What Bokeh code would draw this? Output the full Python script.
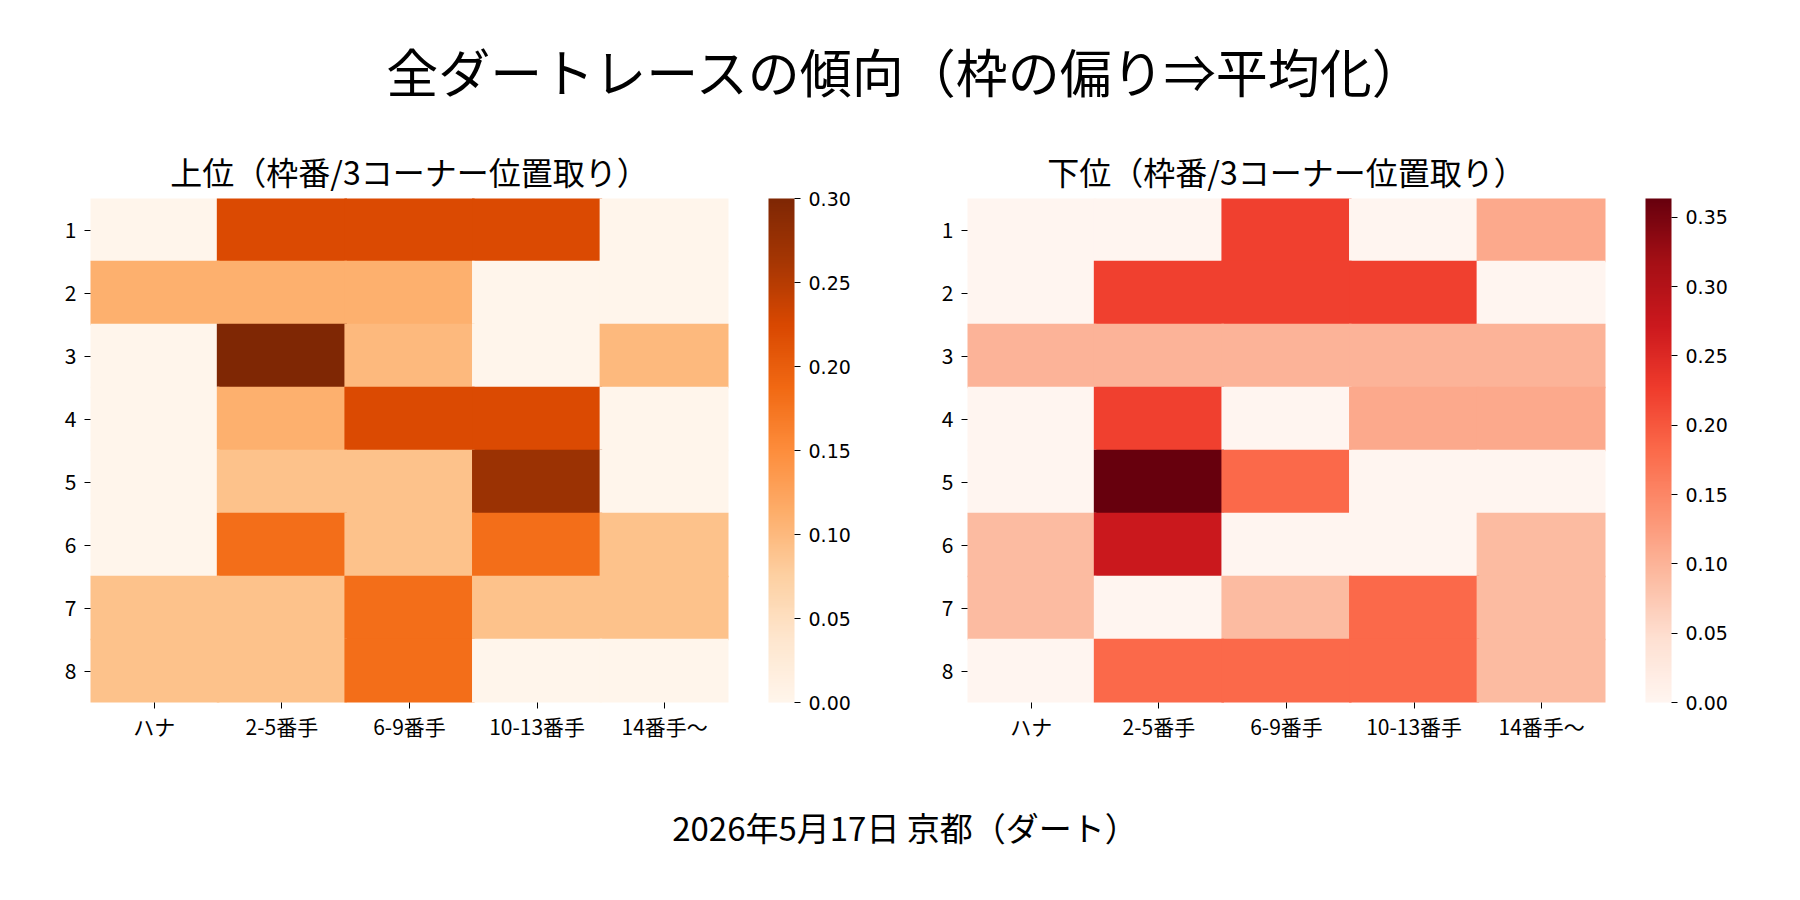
from bokeh.plotting import figure
from bokeh.models import (LinearColorMapper, ColorBar, FixedTicker, PrintfTickFormatter,
                          Div, ColumnDataSource, FactorRange)
from bokeh.layouts import column, row
from bokeh.palettes import Oranges256, Reds256
from bokeh.embed import file_html
from bokeh.resources import INLINE

# ---------------- data ----------------
gates = ["1", "2", "3", "4", "5", "6", "7", "8"]
positions = ["ハナ", "2-5番手", "6-9番手", "10-13番手", "14番手〜"]

upper_values = [
    [0.0,    0.2222, 0.2222, 0.2222, 0.0],
    [0.1111, 0.1111, 0.1111, 0.0,    0.0],
    [0.0,    0.3,    0.1,    0.0,    0.1],
    [0.0,    0.1111, 0.2222, 0.2222, 0.0],
    [0.0,    0.0909, 0.0909, 0.2727, 0.0],
    [0.0,    0.1818, 0.0909, 0.1818, 0.0909],
    [0.0909, 0.0909, 0.1818, 0.0909, 0.0909],
    [0.0909, 0.0909, 0.1818, 0.0,    0.0],
]
lower_values = [
    [0.0,    0.0,    0.2222, 0.0,    0.1111],
    [0.0,    0.2222, 0.2222, 0.2222, 0.0],
    [0.1,    0.1,    0.1,    0.1,    0.1],
    [0.0,    0.2222, 0.0,    0.1111, 0.1111],
    [0.0,    0.3636, 0.1818, 0.0,    0.0],
    [0.0909, 0.2727, 0.0,    0.0,    0.0909],
    [0.0909, 0.0,    0.0909, 0.1818, 0.0909],
    [0.0,    0.1818, 0.1818, 0.1818, 0.0909],
]
upper_max = 0.30
lower_max = 0.3636
upper_ticks = [0.0, 0.05, 0.10, 0.15, 0.20, 0.25, 0.30]
lower_ticks = [0.0, 0.05, 0.10, 0.15, 0.20, 0.25, 0.30, 0.35]

main_title = "全ダートレースの傾向（枠の偏り⇒平均化）"
upper_title = "上位（枠番/3コーナー位置取り）"
lower_title = "下位（枠番/3コーナー位置取り）"
footer_text = "2026年5月17日 京都（ダート）"

JP = "Noto Sans CJK JP"


def heatmap(title, values, palette, vmax, ticks, left_border, right_border):
    xs, ys, vs = [], [], []
    for g, rowvals in zip(gates, values):
        for pos, v in zip(positions, rowvals):
            xs.append(pos)
            ys.append(g)
            vs.append(v)
    src = ColumnDataSource(dict(x=xs, y=ys, v=vs))
    mapper = LinearColorMapper(palette=list(reversed(palette)), low=0.0, high=vmax)

    p = figure(x_range=FactorRange(*positions), y_range=FactorRange(*reversed(gates)),
               frame_width=638, frame_height=504,
               min_border_left=left_border, min_border_right=right_border,
               min_border_top=78, min_border_bottom=67,
               output_backend="svg", toolbar_location=None, title=title)
    # slightly oversized cells so that neighbouring cells overlap (no anti-alias seams)
    p.rect(x="x", y="y", width=1.02, height=1.02, source=src,
           fill_color={"field": "v", "transform": mapper}, line_color=None)

    p.title.align = "center"
    p.title.text_font = JP
    p.title.text_font_size = "32px"
    p.title.text_font_style = "normal"
    p.title.text_color = "black"
    p.title.standoff = 10

    p.outline_line_color = None
    p.grid.visible = False
    p.background_fill_color = "white"
    p.border_fill_color = "white"
    for ax in (p.xaxis, p.yaxis):
        ax.axis_line_color = None
        ax.major_tick_in = 0
        ax.major_tick_out = 6
        ax.major_tick_line_color = "black"
        ax.minor_tick_line_color = None
        ax.major_label_text_font = JP
        ax.major_label_text_font_size = "21px"
        ax.major_label_text_color = "black"
    p.xaxis.major_label_standoff = 2
    p.yaxis.major_label_standoff = 8

    cb = ColorBar(color_mapper=mapper, ticker=FixedTicker(ticks=ticks),
                  formatter=PrintfTickFormatter(format="%.2f"),
                  width=26, height=504, padding=0, margin=0, location=(40, 0),
                  major_label_text_font="DejaVu Sans",
                  major_label_text_font_size="19px",
                  major_label_text_color="black",
                  major_tick_in=0, major_tick_out=6,
                  major_tick_line_color="black",
                  minor_tick_line_color=None,
                  bar_line_color=None, border_line_color=None,
                  background_fill_color=None, label_standoff=8)
    p.add_layout(cb, "right")
    return p


p1 = heatmap(upper_title, upper_values, Oranges256, upper_max, upper_ticks, 90, 157)
p2 = heatmap(lower_title, lower_values, Reds256, lower_max, lower_ticks, 82, 179)

title_div = Div(text=main_title, width=1784, height=110,
                styles={"font-family": JP, "font-size": "52px", "text-align": "center",
                        "padding-top": "29px", "padding-left": "16px",
                        "color": "black", "box-sizing": "border-box"})
footer_div = Div(text=footer_text, width=1784, height=110,
                 styles={"font-family": JP, "font-size": "33px", "text-align": "center",
                         "padding-top": "30px", "padding-left": "16px",
                         "color": "black", "box-sizing": "border-box"})

layout = column(title_div, row(p1, p2), footer_div)
open("out.html", "w").write(file_html(layout, INLINE))
